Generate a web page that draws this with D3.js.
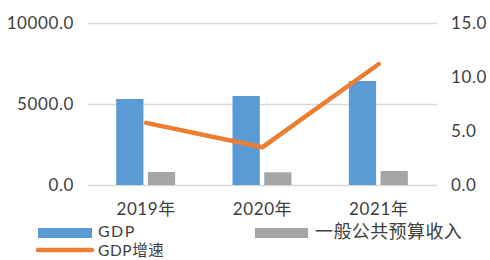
<!DOCTYPE html>
<html>
<head>
<meta charset="utf-8">
<script src="https://cdn.jsdelivr.net/npm/d3@7"></script>
<style>
  body { margin: 0; background: #fff; }
  text { font-family: "Lato", "Noto Sans CJK SC", sans-serif; fill: #404040; letter-spacing: 0.6px; }
</style>
</head>
<body>
<script>
"use strict";

// chart data
const years = ["2019年", "2020年", "2021年"];
const gdp = [5309, 5494, 6420];
const revenue = [802, 785, 864];
const growth = [5.75, 3.5, 11.2];
const leftTicks = [0, 5000, 10000];
const rightTicks = [0, 5, 10, 15];

const width = 490, height = 260;
const plot = { left: 88, right: 437, top: 23, bottom: 185 };

const svg = d3.select("body").append("svg")
	.attr("width", width)
	.attr("height", height);

const x = d3.scaleBand()
	.domain(years)
	.range([plot.left, plot.right]);

const xInner = d3.scaleBand()
	.domain(["gdp", "rev"])
	.range([0, 59])
	.paddingInner(0.14);

const yLeft = d3.scaleLinear().domain([0, 10000]).range([plot.bottom, plot.top]);
const yRight = d3.scaleLinear().domain([0, 15]).range([plot.bottom, plot.top]);

// gridlines
svg.append("g").selectAll("line")
	.data(leftTicks)
	.enter().append("line")
	.attr("x1", plot.left).attr("x2", plot.right)
	.attr("y1", d => yLeft(d) + 0.5).attr("y2", d => yLeft(d) + 0.5)
	.attr("stroke", "#d9d9d9").attr("stroke-width", 1.3);

// left axis labels
svg.append("g").selectAll("text")
	.data(leftTicks)
	.enter().append("text")
	.attr("x", 74).attr("y", d => yLeft(d))
	.attr("dy", "0.35em")
	.attr("text-anchor", "end")
	.style("font-size", "17px")
	.text(d => d.toFixed(1));

// right axis labels
svg.append("g").selectAll("text")
	.data(rightTicks)
	.enter().append("text")
	.attr("x", 451).attr("y", d => yRight(d))
	.attr("dy", "0.35em")
	.style("font-size", "17px")
	.text(d => d.toFixed(1));

// bars
const groups = svg.append("g").selectAll("g")
	.data(years)
	.enter().append("g")
	.attr("transform", d => "translate(" + (x(d) + x.bandwidth() / 2 - 30) + ",0)");

groups.append("rect")
	.attr("x", xInner("gdp"))
	.attr("width", xInner.bandwidth())
	.attr("y", (d, i) => yLeft(gdp[i]))
	.attr("height", (d, i) => plot.bottom - yLeft(gdp[i]))
	.attr("fill", "#5b9bd5");

groups.append("rect")
	.attr("x", xInner("rev"))
	.attr("width", xInner.bandwidth())
	.attr("y", (d, i) => yLeft(revenue[i]))
	.attr("height", (d, i) => plot.bottom - yLeft(revenue[i]))
	.attr("fill", "#a5a5a5");

// growth line
const line = d3.line()
	.x((d, i) => x(years[i]) + x.bandwidth() / 2)
	.y(d => yRight(d));

svg.append("path")
	.datum(growth)
	.attr("d", line)
	.attr("fill", "none")
	.attr("stroke", "#ed7d31")
	.attr("stroke-width", 4.5)
	.attr("stroke-linecap", "round")
	.attr("stroke-linejoin", "round");

// category labels
svg.append("g").selectAll("text")
	.data(years)
	.enter().append("text")
	.attr("x", d => x(d) + x.bandwidth() / 2)
	.attr("y", 209)
	.attr("dy", "0.35em")
	.attr("text-anchor", "middle")
	.style("font-size", "17px")
	.text(d => d);

// legend
const legend = svg.append("g");
legend.append("rect").attr("x", 38).attr("y", 228).attr("width", 54).attr("height", 10).attr("fill", "#5b9bd5");
legend.append("text").attr("x", 98).attr("y", 231).attr("dy", "0.35em").style("font-size", "16px").style("letter-spacing", "1.4px").text("GDP");
legend.append("rect").attr("x", 255).attr("y", 228).attr("width", 53).attr("height", 10).attr("fill", "#a5a5a5");
legend.append("text").attr("x", 315).attr("y", 232).attr("dy", "0.35em").style("font-size", "18px").style("letter-spacing", "0.4px").text("一般公共预算收入");
legend.append("line").attr("x1", 38).attr("x2", 92).attr("y1", 250).attr("y2", 250)
	.attr("stroke", "#ed7d31").attr("stroke-width", 4.5).attr("stroke-linecap", "round");
legend.append("text").attr("x", 98).attr("y", 251).attr("dy", "0.35em").style("font-size", "15.5px").text("GDP增速");
</script>
</body>
</html>
